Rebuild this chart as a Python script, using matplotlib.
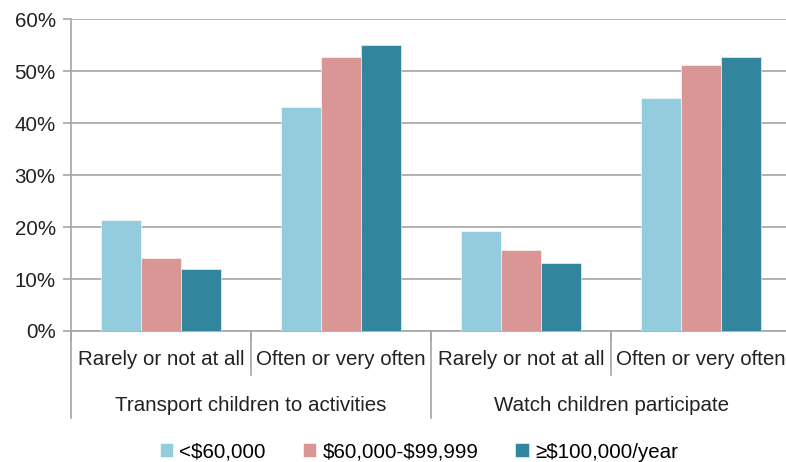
import numpy as np
import matplotlib.pyplot as plt
from matplotlib.transforms import blended_transform_factory

# --- data ---
groups = ['Transport children to activities', 'Watch children participate']
categories = ['Rarely or not at all', 'Often or very often',
              'Rarely or not at all', 'Often or very often']
series_names = ['<\\$60,000', '\\$60,000-\\$99,999', '\u2265\\$100,000/year']
low_income = [21.3, 43.2, 19.3, 44.9]
mid_income = [14.0, 52.8, 15.5, 51.2]
high_income = [11.9, 55.0, 13.1, 52.7]
yticks = [0, 10, 20, 30, 40, 50, 60]

colors = ['#93CDDD', '#D99694', '#31859C']
grid_col = '#A6A6A6'
txt_col = '#222222'
fs = 14.8

plt.rcParams['font.family'] = ['Liberation Sans', 'DejaVu Sans']
plt.rcParams['font.size'] = fs

fig = plt.figure(figsize=(7.86, 4.62), dpi=100)
ax = fig.add_axes([71 / 786, 131 / 462, 720 / 786, 311.7 / 462])

x = np.arange(len(categories))
w = 0.222
for i, (vals, name) in enumerate(zip([low_income, mid_income, high_income], series_names)):
    ax.bar(x + (i - 1) * w, vals, w, color=colors[i], label=name,
           edgecolor='white', linewidth=0.4, zorder=3)

ax.set_ylim(0, 60)
ax.set_xlim(-0.5, len(categories) - 0.5)
ax.set_yticks(yticks)
ax.set_yticklabels([f'{t}%' for t in yticks], color=txt_col)
ax.yaxis.grid(True, color=grid_col, linewidth=1.2, zorder=0)
ax.tick_params(axis='y', length=6, color=grid_col, width=1.2, pad=5)

# category boundaries as ticks, labels placed by hand
ax.set_xticks(np.arange(len(categories) + 1) - 0.5)
ax.set_xticklabels([])
ax.tick_params(axis='x', length=8, color=grid_col, width=1.2)

for s in ['top', 'right']:
    ax.spines[s].set_visible(False)
for s in ['left', 'bottom']:
    ax.spines[s].set_color(grid_col)
    ax.spines[s].set_linewidth(1.2)

trans = blended_transform_factory(ax.transData, ax.transAxes)
for xi, lab in zip(x, categories):
    ax.text(xi, -0.092, lab, transform=trans, ha='center', va='center',
            color=txt_col, fontsize=fs)

n_per = len(categories) // len(groups)
for gi, g in enumerate(groups):
    cx = gi * n_per + (n_per - 1) / 2
    ax.text(cx, -0.24, g, transform=trans, ha='center', va='center',
            color=txt_col, fontsize=fs)

# separator lines under the axis
for b in np.arange(len(categories) + 1) - 0.5:
    long_line = (b + 0.5) % n_per == 0
    y_end = -0.279 if long_line else -0.141
    ax.plot([b, b], [0, y_end], transform=trans, color=grid_col,
            linewidth=1.2, clip_on=False)

fig.legend(loc='lower center', bbox_to_anchor=(0.533, -0.039), ncol=3,
           frameon=False, handlelength=0.65, handleheight=0.65,
           handletextpad=0.3, columnspacing=1.8, fontsize=fs)

fig.savefig('out.png', dpi=100)
